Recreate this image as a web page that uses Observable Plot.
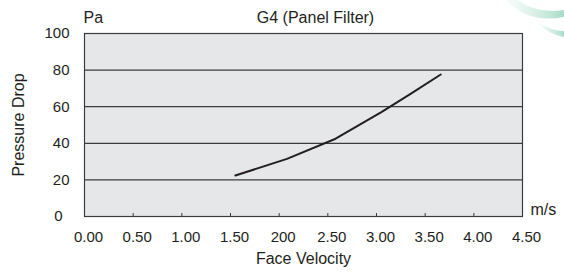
<!DOCTYPE html>
<html>
<head>
<meta charset="utf-8">
<script src="https://cdn.jsdelivr.net/npm/d3@7"></script>
<script src="https://cdn.jsdelivr.net/npm/@observablehq/plot@0.6"></script>
<style>
  html, body { margin: 0; padding: 0; background: #fff; }
  #wrap { position: relative; width: 564px; height: 273px; overflow: hidden; }
  #deco { position: absolute; left: 0; top: 0; pointer-events: none; }
</style>
</head>
<body>
<div id="wrap"></div>
<script>
// Data
const velocity = [1.55, 2.08, 2.58, 3.05, 3.35, 3.66];
const pressure = [22.4, 31.5, 42.5, 57, 67, 77.6];
const xTicks = [0, 0.5, 1, 1.5, 2, 2.5, 3, 3.5, 4, 4.5];
const xTickLabels = ["0.00", "0.50", "1.00", "1.50", "200", "2.50", "3.00", "3.50", "4.00", "4.50"];
const yTicks = [0, 20, 40, 60, 80, 100];
const gridValues = [20, 40, 60, 80];

const points = velocity.map((v, i) => ({v, p: pressure[i]}));
const ink = "#231f20";
const font = "'Liberation Sans', Arial, Helvetica, sans-serif";

const chart = Plot.plot({
  width: 564,
  height: 273,
  marginLeft: 84,
  marginRight: 42,
  marginTop: 33,
  marginBottom: 57,
  x: {domain: [0, 4.5]},
  y: {domain: [0, 100]},
  style: {fontFamily: font, fontSize: "15px", color: ink, background: "transparent"},
  marks: [
    Plot.frame({fill: "#e6e7e8"}),
    Plot.ruleY(gridValues, {stroke: "#3c3c3c", strokeWidth: 1.2}),
    Plot.frame({stroke: "#3c3c3c", strokeWidth: 1.2}),
    Plot.axisX(xTicks, {tickSize: -3, stroke: "#3c3c3c", tickFormat: () => "", label: null}),
    Plot.axisX(xTicks, {tickSize: 0, tickPadding: 15, dx: 4, fontSize: 15, fill: ink,
      tickFormat: d => xTickLabels[xTicks.indexOf(d)],
      label: "Face Velocity", labelAnchor: "center", labelArrow: "none", labelOffset: 47}),
    Plot.axisY(yTicks.filter(d => d !== 0), {tickSize: 0, tickPadding: 15, fontSize: 15, fill: ink,
      tickFormat: d => String(d),
      label: "Pressure Drop", labelAnchor: "center", labelArrow: "none", labelOffset: 72}),
    Plot.axisY([0], {tickSize: 0, tickPadding: 22, fontSize: 15, fill: ink, tickFormat: d => String(d), label: null}),
    Plot.line(points, {x: "v", y: "p", stroke: ink, strokeWidth: 2}),
    Plot.text(["Pa"], {frameAnchor: "top-left", textAnchor: "start", lineAnchor: "middle", dx: -1, dy: -16, fontSize: 16, fill: ink}),
    Plot.text(["G4 (Panel Filter)"], {frameAnchor: "top", lineAnchor: "middle", dx: 12, dy: -16, fontSize: 16, fill: ink}),
    Plot.text(["m/s"], {frameAnchor: "bottom-right", textAnchor: "start", lineAnchor: "middle", dx: 8, dy: -7, fontSize: 16, fill: ink})
  ]
});
document.getElementById("wrap").appendChild(chart);

// style the axis titles
chart.querySelectorAll("[aria-label='x-axis label'] text, [aria-label='y-axis label'] text").forEach(t => {
  t.setAttribute("font-size", 16);
  t.setAttribute("fill", ink);
});

// decorative arcs (top-right corner, not data)
const ns = "http://www.w3.org/2000/svg";
const deco = document.createElementNS(ns, "svg");
deco.setAttribute("id", "deco");
deco.setAttribute("width", 564);
deco.setAttribute("height", 273);
deco.innerHTML = `
<defs>
  <linearGradient id="g1" x1="0" x2="1" y1="0" y2="0">
    <stop offset="0" stop-color="#d6efe5" stop-opacity="0.2"/>
    <stop offset="1" stop-color="#a9dcc7"/>
  </linearGradient>
</defs>
<path d="M506,0 Q528,24 564,17 L564,10 Q536,14 518,0 Z" fill="url(#g1)"/>
<path d="M538,22 Q548,35 564,37 L564,31 Q551,31 538,22 Z" fill="url(#g1)"/>`;
document.getElementById("wrap").appendChild(deco);
</script>
</body>
</html>
